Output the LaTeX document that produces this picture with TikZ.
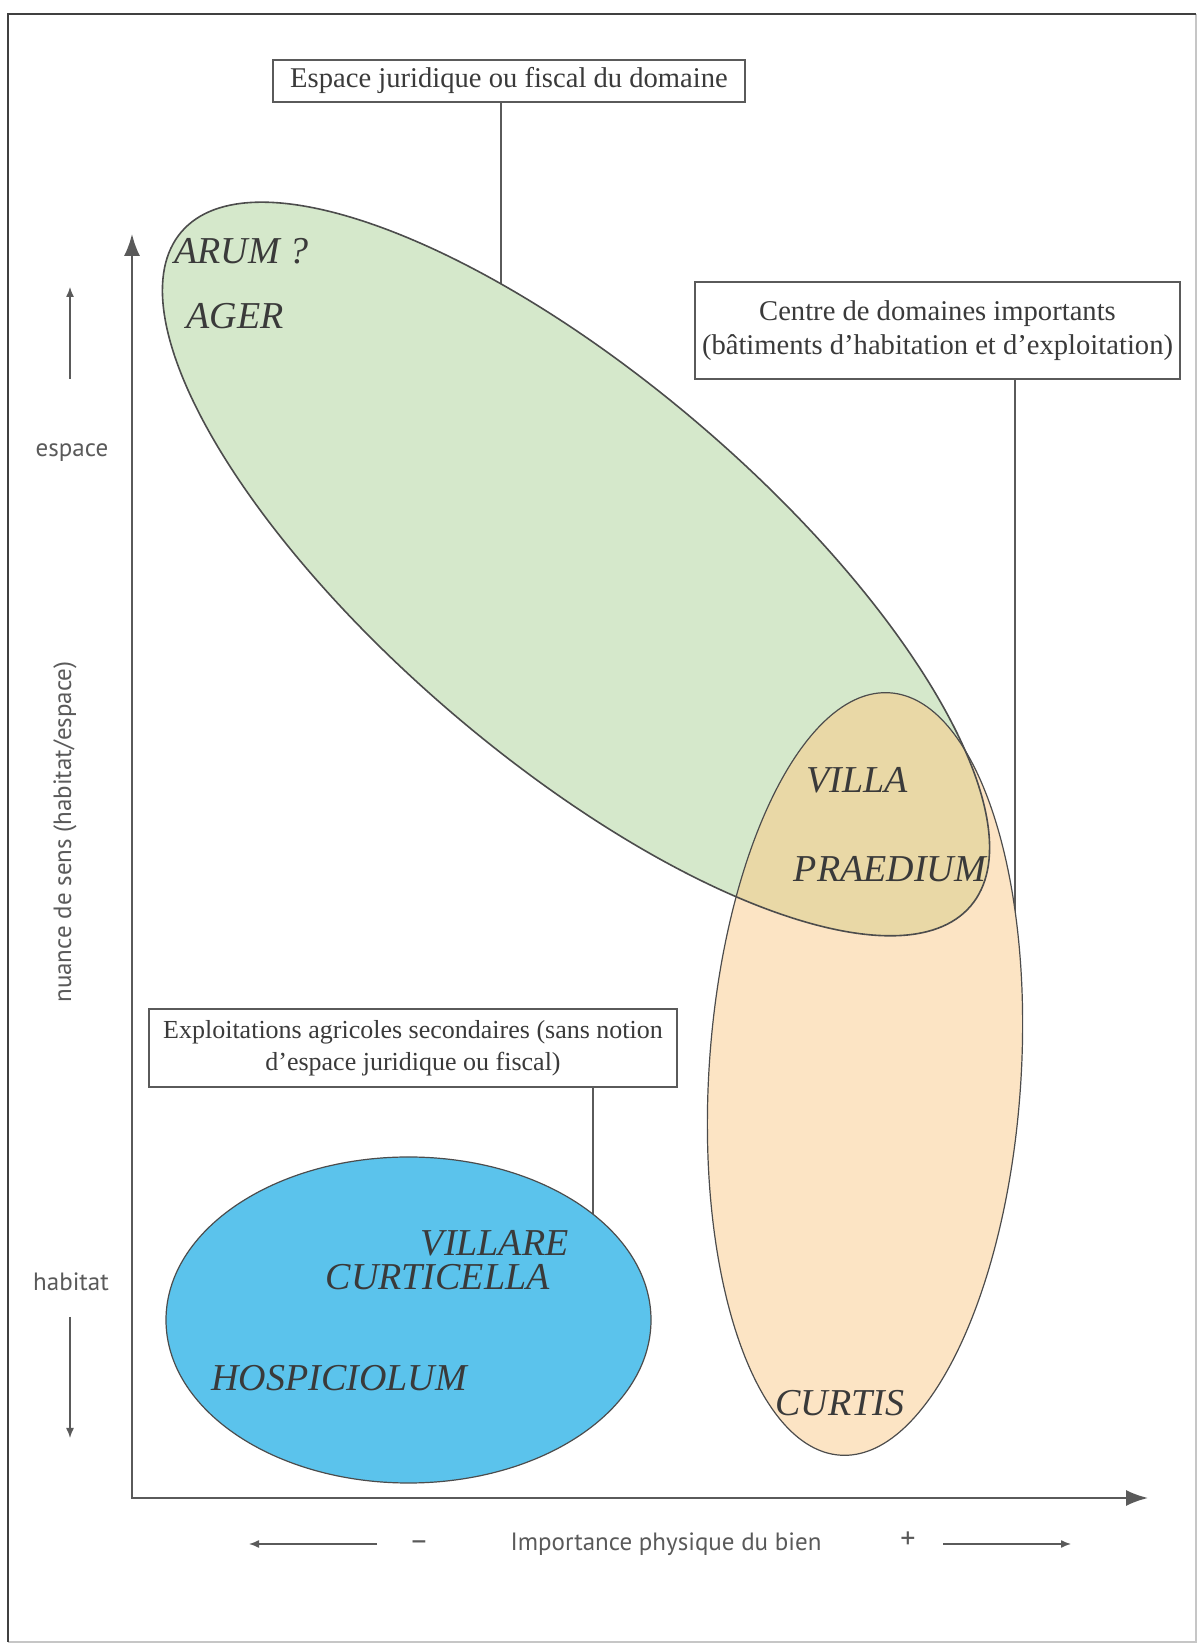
\documentclass[tikz,border=0pt]{standalone}
\usepackage{fontspec}
\setmainfont{Liberation Serif}
\setsansfont{PT Sans}
\usepackage{tikz}
\usetikzlibrary{arrows.meta, positioning, calc}
\definecolor{greenfill}{HTML}{D5E8CB}
\definecolor{peachfill}{HTML}{FCE4C4}
\definecolor{tanfill}{HTML}{E9D8A6}
\definecolor{bluefill}{HTML}{5BC3EC}
\definecolor{ink}{HTML}{3A3A3A}
\definecolor{axisgray}{HTML}{5A5A5A}

\newcommand{\greenshape}{(576,1083) ellipse [x radius=519, y radius=190]}
\newcommand{\peachshape}{(865,578) ellipse [x radius=156, y radius=382]}

\tikzset{
  infobox/.style={draw=axisgray, line width=0.8pt, fill=white, inner sep=0pt, align=center,
    text=ink, font=\fontsize{14.3}{16.8}\selectfont},
  term/.style={text=ink, inner sep=0pt, font=\fontsize{19}{19}\selectfont\itshape},
  axislbl/.style={text=axisgray, inner sep=0pt, font=\sffamily\fontsize{12.5}{14}\selectfont},
  leader/.style={draw=axisgray, line width=0.6pt},
  outline/.style={draw=black!70, line width=0.6pt},
}

\begin{document}
\begin{tikzpicture}[x=0.5pt, y=0.5pt]
    \useasboundingbox (0,0) rectangle (1202,1652);
    \fill[white] (0,0) rectangle (1202,1652);

    % Frame
    \draw[gray!45, line width=0.6pt] (1196,1638) -- (1196,10) -- (8,10);
    \draw[black!75, line width=1.2pt] (8,10) -- (8,1638) -- (1196,1638);

    % Boxes
    \node[infobox, minimum width=236pt, minimum height=21pt] (espbox) at (509,1571)
        {Espace juridique ou fiscal du domaine};
    \node[infobox, minimum width=242.5pt, minimum height=48.5pt] (centbox) at (937.5,1321.5)
        {Centre de domaines importants\\(bâtiments d'habitation et d'exploitation)};
    \node[infobox, minimum width=264pt, minimum height=39pt, font=\fontsize{13}{16}\selectfont] (explbox) at (413,604)
        {Exploitations agricoles secondaires (sans notion\\d'espace juridique ou fiscal)};

    % Leaders (ends hidden under the fills)
    \coordinate (jur) at (501,1340);
    \coordinate (cent) at (1015,700);
    \coordinate (expl) at (593,420);
    \draw[leader] (espbox.south -| jur) -- (jur);
    \draw[leader] (centbox.south -| cent) -- (cent);
    \draw[leader] (explbox.south -| expl) -- (expl);

    % Ellipses
    \fill[greenfill, rotate around={-40.5:(576,1083)}] \greenshape;
    \fill[peachfill, rotate around={-3.7:(865,578)}] \peachshape;
    \begin{scope}
        \clip[rotate around={-40.5:(576,1083)}] \greenshape;
        \fill[tanfill, rotate around={-3.7:(865,578)}] \peachshape;
    \end{scope}
    \draw[outline, line width=0.8pt, rotate around={-40.5:(576,1083)}] \greenshape;
    \draw[outline, rotate around={-3.7:(865,578)}] \peachshape;
    \filldraw[fill=bluefill, outline] (408.5,332) ellipse [x radius=242.5, y radius=163];

    % Terms
    \node[term, anchor=west] (arum) at (174,1401) {ARUM ?};
    \node[term, anchor=west] (ager) at (186,1336) {AGER};
    \node[term] (villa) at (857,872) {VILLA};
    \node[term] (praed) at (890,783) {PRAEDIUM};
    \node[term, anchor=east] (villare) at (569,409) {VILLARE};
    \node[term, anchor=east] (curtic) at (550,375) {CURTICELLA};
    \node[term] (hospic) at (339,274) {HOSPICIOLUM};
    \node[term] (curtis) at (840,249) {CURTIS};

    % Axes
    \coordinate (origin) at (132,154);
    \coordinate (ytop) at (132,1418);
    \coordinate (xend) at (1148,154);
    \draw[axisgray, line width=1pt, {Latex[length=11pt, width=8pt]}-{Latex[length=11pt, width=8pt]}]
        (ytop) -- (origin) -- (xend);

    % Axis labels
    \node[axislbl] (espace) at (72,1199) {espace};
    \node[axislbl] (habitat) at (71,370) {habitat};
    \node[axislbl, rotate=90] (nuance) at (65,820) {nuance de sens (habitat/espace)};
    \node[axislbl] (importance) at (666,108) {Importance physique du bien};
    \node[axislbl, font=\sffamily\fontsize{15}{15}\selectfont] (minus) at (419,106) {–};
    \node[axislbl, font=\sffamily\fontsize{15}{15}\selectfont] (plus) at (908,112) {+};

    \coordinate (upA) at (70,1273);
    \coordinate (upB) at (70,1365);
    \coordinate (dnA) at (70,335);
    \coordinate (dnB) at (70,214);
    \coordinate (ltA) at (377,108);
    \coordinate (ltB) at (249,108);
    \coordinate (rtA) at (943,108);
    \coordinate (rtB) at (1071,108);
    \draw[axisgray, line width=0.7pt, -{Latex[length=5pt, width=4pt]}] (upA) -- (upB);
    \draw[axisgray, line width=0.7pt, -{Latex[length=5pt, width=4pt]}] (dnA) -- (dnB);
    \draw[axisgray, line width=0.7pt, -{Latex[length=5pt, width=4pt]}] (ltA) -- (ltB);
    \draw[axisgray, line width=0.7pt, -{Latex[length=5pt, width=4pt]}] (rtA) -- (rtB);
\end{tikzpicture}
\end{document}
